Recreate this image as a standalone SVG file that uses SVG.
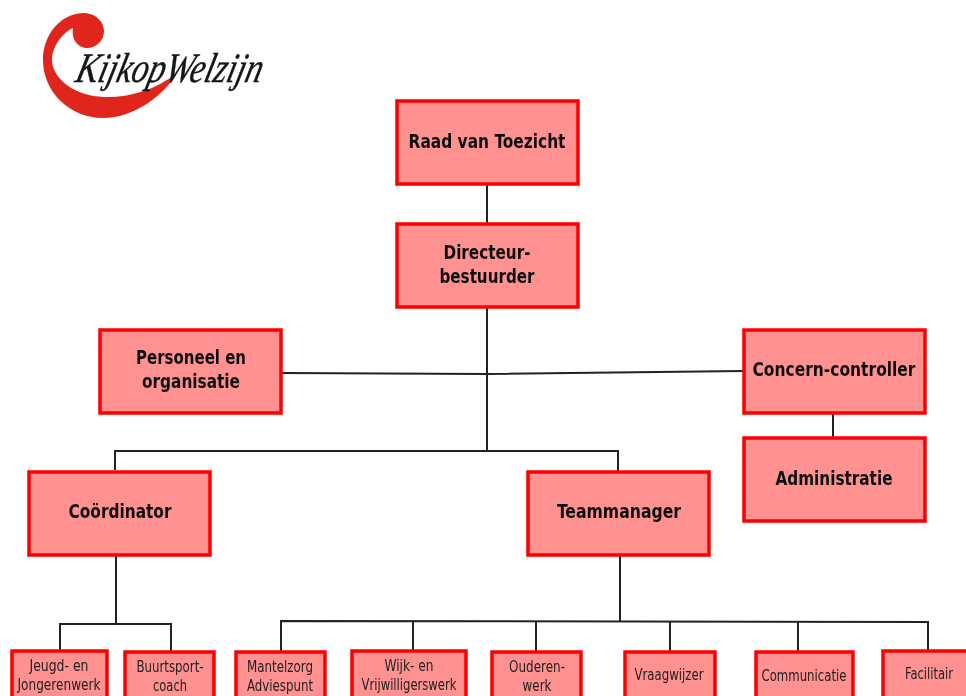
<svg xmlns="http://www.w3.org/2000/svg" width="966" height="696" viewBox="0 0 966 696">
<defs><filter id="soft" x="-5%" y="-5%" width="110%" height="110%"><feGaussianBlur stdDeviation="0.5"/></filter></defs>
<style>
.box{fill:#ff9191;stroke:#ff0000;stroke-width:3.5}
.big{font:bold 19.5px "DejaVu Sans Condensed","DejaVu Sans",sans-serif;fill:#111;text-anchor:middle}
.small{font:15px "DejaVu Sans Condensed","DejaVu Sans",sans-serif;fill:#222;text-anchor:middle}
.line{fill:none;stroke:#222;stroke-width:2}
</style>
<rect width="966" height="696" fill="#fff"/>
<g id="logo" filter="url(#soft)">
<path fill="#e0251b" d="M83 13C96 13 104 22 104 31C104 41 96 48 87 48C78 48 71 39 73 28C62 33 52 47 52 60C52 72 62 84 77 91C100 102 145 99 177 73C165 94 135 118 103 118C70 118 43 92 43 60C43 35 60 14 83 13Z"/>
<text transform="translate(74 82) skewX(-14)" x="0" y="0" style="font:italic 42px 'Liberation Serif',serif;fill:#151515;stroke:#151515;stroke-width:.4" textLength="186" lengthAdjust="spacingAndGlyphs">KijkopWelzijn</text>
</g>
<g id="chart" filter="url(#soft)">
<g id="connectors">
<path class="line" d="M487 184V224M487 307V450"/>
<path class="line" d="M282 373L487 374L743 371"/>
<path class="line" d="M115 470V451H618V471"/>
<path class="line" d="M833 412V438"/>
<path class="line" d="M116 555V623"/>
<path class="line" d="M60 651V624H171V651"/>
<path class="line" d="M620 555V622"/>
<path class="line" d="M281 651V621L928 622V650"/>
<path class="line" d="M413 621V650M536 622V651M670 622V651M798 622V651"/>
</g>
<g id="raad"><rect class="box" x="397" y="101" width="181" height="83"/><text class="big" x="487" y="148" textLength="157" lengthAdjust="spacingAndGlyphs">Raad van Toezicht</text></g>
<g id="directeur"><rect class="box" x="397" y="224" width="181" height="83"/><text class="big" x="487" y="259" textLength="87" lengthAdjust="spacingAndGlyphs">Directeur-</text><text class="big" x="487" y="283" textLength="95" lengthAdjust="spacingAndGlyphs">bestuurder</text></g>
<g id="personeel"><rect class="box" x="100" y="330" width="181" height="83"/><text class="big" x="191" y="364" textLength="110" lengthAdjust="spacingAndGlyphs">Personeel en</text><text class="big" x="191" y="388" textLength="98" lengthAdjust="spacingAndGlyphs">organisatie</text></g>
<g id="controller"><rect class="box" x="744" y="330" width="181" height="83"/><text class="big" x="834" y="376" textLength="163" lengthAdjust="spacingAndGlyphs">Concern-controller</text></g>
<g id="administratie"><rect class="box" x="744" y="438" width="181" height="83"/><text class="big" x="834" y="485" textLength="117" lengthAdjust="spacingAndGlyphs">Administratie</text></g>
<g id="coordinator"><rect class="box" x="29" y="472" width="181" height="83"/><text class="big" x="120" y="518" textLength="103" lengthAdjust="spacingAndGlyphs">Coördinator</text></g>
<g id="teammanager"><rect class="box" x="528" y="472" width="181" height="83"/><text class="big" x="619" y="518" textLength="124" lengthAdjust="spacingAndGlyphs">Teammanager</text></g>
<g id="jeugd"><rect class="box" x="12" y="651" width="95" height="60"/><text class="small" x="59" y="671" textLength="59" lengthAdjust="spacingAndGlyphs">Jeugd- en</text><text class="small" x="59" y="690" textLength="83" lengthAdjust="spacingAndGlyphs">Jongerenwerk</text></g>
<g id="buurtsport"><rect class="box" x="125" y="652" width="89" height="60"/><text class="small" x="170" y="672" textLength="67" lengthAdjust="spacingAndGlyphs">Buurtsport-</text><text class="small" x="170" y="691" textLength="34" lengthAdjust="spacingAndGlyphs">coach</text></g>
<g id="mantelzorg"><rect class="box" x="236" y="652" width="89" height="60"/><text class="small" x="280" y="672" textLength="66" lengthAdjust="spacingAndGlyphs">Mantelzorg</text><text class="small" x="280" y="691" textLength="66" lengthAdjust="spacingAndGlyphs">Adviespunt</text></g>
<g id="wijk"><rect class="box" x="352" y="651" width="114" height="60"/><text class="small" x="409" y="671" textLength="49" lengthAdjust="spacingAndGlyphs">Wijk- en</text><text class="small" x="409" y="690" textLength="95" lengthAdjust="spacingAndGlyphs">Vrijwilligerswerk</text></g>
<g id="ouderen"><rect class="box" x="492" y="652" width="89" height="60"/><text class="small" x="537" y="672" textLength="56" lengthAdjust="spacingAndGlyphs">Ouderen-</text><text class="small" x="537" y="691" textLength="29" lengthAdjust="spacingAndGlyphs">werk</text></g>
<g id="vraagwijzer"><rect class="box" x="625" y="652" width="90" height="60"/><text class="small" x="669" y="680" textLength="69" lengthAdjust="spacingAndGlyphs">Vraagwijzer</text></g>
<g id="communicatie"><rect class="box" x="756" y="652" width="97" height="60"/><text class="small" x="804" y="681" textLength="85" lengthAdjust="spacingAndGlyphs">Communicatie</text></g>
<g id="facilitair"><rect class="box" x="883" y="651" width="97" height="60"/><text class="small" x="929" y="679" textLength="48" lengthAdjust="spacingAndGlyphs">Facilitair</text></g>
</g>
</svg>
